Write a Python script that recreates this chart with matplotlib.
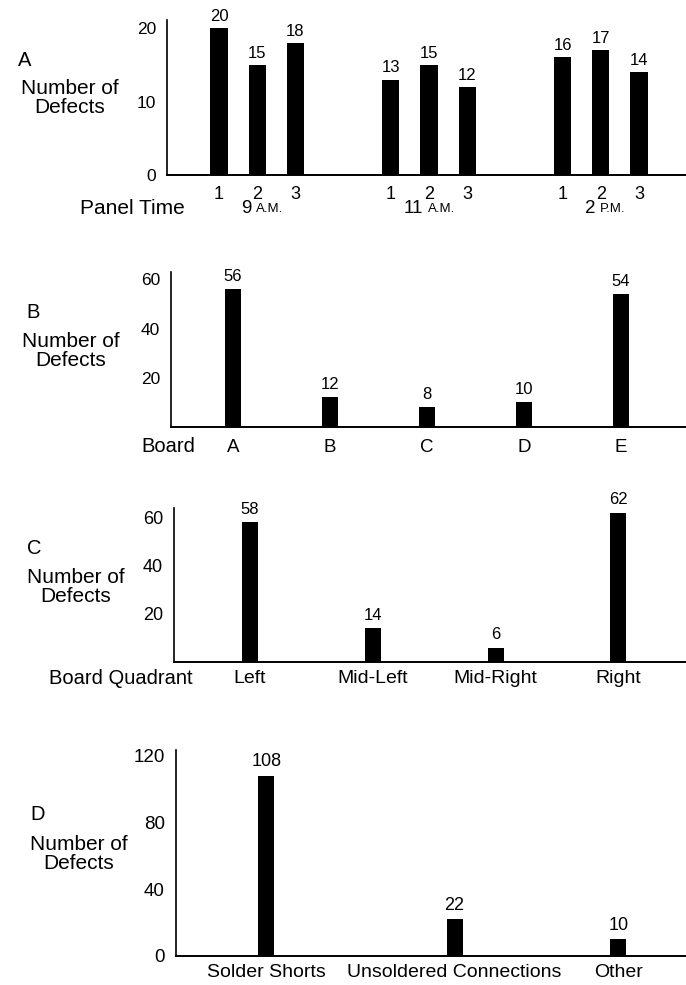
#defect counts by time, board, quadrant and type
import matplotlib
matplotlib.use("Agg")
import matplotlib.pyplot as plt
import numpy as np

plt.rcParams['font.family'] = ['Liberation Sans', 'DejaVu Sans']

########################
#data

time_nums = ["9", "11", "2"]
time_suffix = ["A.M.", "A.M.", "P.M."]
panel_labels = ["1", "2", "3"]
defects_by_time = [[20, 15, 18], [13, 15, 12], [16, 17, 14]]

boards = ["A", "B", "C", "D", "E"]
defects_by_board = [56, 12, 8, 10, 54]

quadrants = ["Left", "Mid-Left", "Mid-Right", "Right"]
defects_by_quadrant = [58, 14, 6, 62]

defect_types = ["Solder Shorts", "Unsoldered Connections", "Other"]
defects_by_type = [108, 22, 10]

########################
#layout helpers

W, H = 686, 985
fig = plt.figure(figsize=(W/100, H/100), dpi=100)

def px_axes(left, top, right, bottom):
    return fig.add_axes([left/W, 1-bottom/H, (right-left)/W, (bottom-top)/H])

def px_text(x, y, s, **kw):
    fig.text(x/W, 1-y/H, s, **kw)

def style(ax, ytick_size, xtick_size, xpad):
    for s in ["top", "right"]:
        ax.spines[s].set_visible(False)
    ax.spines["left"].set_linewidth(1.2)
    ax.spines["bottom"].set_linewidth(1.4)
    ax.tick_params(axis="y", length=0, pad=8, labelsize=ytick_size)
    ax.tick_params(axis="x", length=0, pad=xpad, labelsize=xtick_size)

def bar_values(ax, xs, vals, size, off=3):
    for x, v in zip(xs, vals):
        ax.annotate(str(v), (x, v), xytext=(0, off), textcoords="offset points",
                    ha="center", va="bottom", fontsize=size)

def side_label(letter, lx, ly, cx, cy):
    px_text(lx, ly, letter, fontsize=14.5, ha="left", va="center")
    px_text(cx, cy, "Number of\nDefects", fontsize=15, ha="center", va="center",
            linespacing=0.95)

########################
#panel A

axA = px_axes(167, 20, 686, 175)
xs_all = []
vals_all = []
ticklabs = []
for g, vals in enumerate(defects_by_time):
    for i, v in enumerate(vals):
        xs_all.append(g*4.5 + i)
        vals_all.append(v)
        ticklabs.append(panel_labels[i])
axA.bar(xs_all, vals_all, width=0.45, color="black")
axA.set_xlim(-1.36, 12.23)
axA.set_ylim(0, 21.1)
axA.set_yticks([0, 10, 20])
axA.set_xticks(xs_all)
axA.set_xticklabels(ticklabs)
style(axA, 12.5, 13, 8)
bar_values(axA, xs_all, vals_all, 12)
for g in range(len(time_nums)):
    xc = g*4.5 + 1
    axA.annotate(time_nums[g], (xc, 0), xycoords=("data", "axes fraction"),
                 xytext=(-4, -24), textcoords="offset points", ha="right", va="center",
                 fontsize=13.5)
    axA.annotate(time_suffix[g], (xc, 0), xycoords=("data", "axes fraction"),
                 xytext=(-0.5, -24.5), textcoords="offset points", ha="left", va="center",
                 fontsize=9.5)
side_label("A", 18, 61, 70, 98)
px_text(132, 208, "Panel Time", fontsize=15, ha="center", va="center")

########################
#panel B

axB = px_axes(171, 272, 686, 427)
xb = np.arange(len(boards))
axB.bar(xb, defects_by_board, width=0.17, color="black")
axB.set_xlim(-0.64, 4.67)
axB.set_ylim(0, 63)
axB.set_yticks([20, 40, 60])
axB.set_xticks(xb)
axB.set_xticklabels(boards)
style(axB, 12.5, 13.5, 9)
bar_values(axB, xb, defects_by_board, 12, 4)
side_label("B", 26, 312, 71, 351)
px_text(168, 447, "Board", fontsize=14.5, ha="center", va="center")

########################
#panel C

axC = px_axes(174, 508, 686, 662)
xq = np.arange(len(quadrants))
axC.bar(xq, defects_by_quadrant, width=0.13, color="black")
axC.set_xlim(-0.62, 3.55)
axC.set_ylim(0, 64)
axC.set_yticks([20, 40, 60])
axC.set_xticks(xq)
axC.set_xticklabels(quadrants)
style(axC, 13, 14, 6)
bar_values(axC, xq, defects_by_quadrant, 12, 4)
side_label("C", 27, 548, 76, 587)
px_text(121, 678, "Board Quadrant", fontsize=14.5, ha="center", va="center")

########################
#panel D

axD = px_axes(176, 750, 686, 956)
xd = [0, 1, 1.87]
axD.bar(xd, defects_by_type, width=0.085, color="black")
axD.set_xlim(-0.48, 2.23)
axD.set_ylim(0, 123.6)
axD.set_yticks([0, 40, 80, 120])
axD.set_xticks(xd)
axD.set_xticklabels(defect_types)
style(axD, 13.5, 14, 6)
bar_values(axD, xd, defects_by_type, 13, 4)
side_label("D", 30, 815, 79, 854)

fig.savefig("out.png", dpi=100)
